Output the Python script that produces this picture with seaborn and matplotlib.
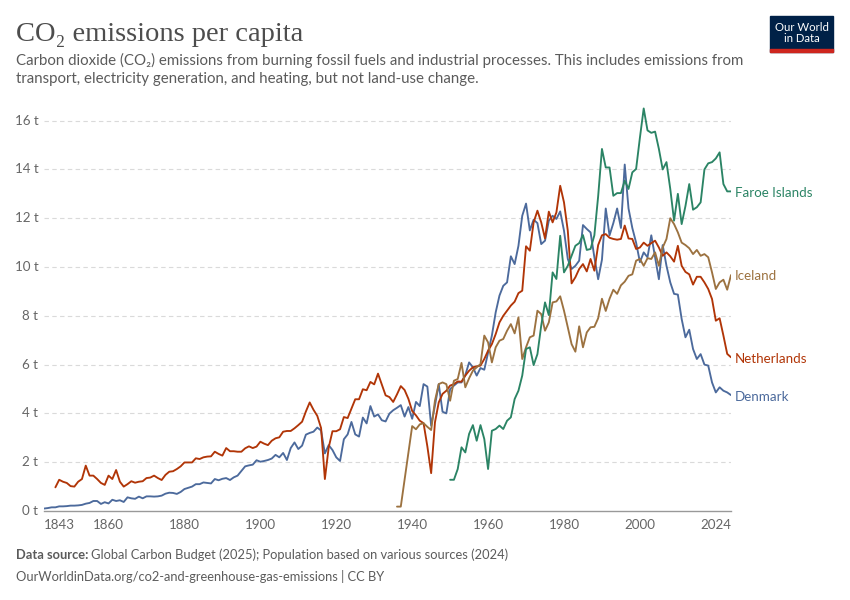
import matplotlib
matplotlib.use("Agg")
import matplotlib.pyplot as plt
import pandas as pd
import seaborn as sns
from matplotlib.patches import Rectangle

# CO2 emissions per capita (t)
years_dk = list(range(1843, 2025))
denmark = [
    0.10, 0.12, 0.15, 0.15, 0.19, 0.19, 0.20,
    0.22, 0.22, 0.23, 0.25, 0.30, 0.33, 0.41, 0.41, 0.29, 0.36,
    0.31, 0.46, 0.41, 0.44, 0.37, 0.56, 0.52, 0.50, 0.59, 0.52,
    0.60, 0.60, 0.59, 0.60, 0.63, 0.71, 0.75, 0.74, 0.70, 0.78,
    0.90, 0.95, 1.00, 1.10, 1.10, 1.17, 1.15, 1.13, 1.31, 1.26,
    1.32, 1.35, 1.27, 1.38, 1.45, 1.64, 1.83, 1.87, 1.90, 2.08,
    2.02, 2.05, 2.09, 2.15, 2.30, 2.20, 2.38, 2.09, 2.58, 2.81,
    2.54, 2.68, 3.13, 3.20, 3.25, 3.42, 3.30, 2.36, 2.70, 2.50,
    2.20, 2.05, 2.94, 3.14, 3.65, 3.14, 3.05, 3.83, 3.59, 4.30,
    3.87, 3.96, 3.72, 3.67, 3.99, 4.13, 4.23, 4.34, 3.87, 4.26,
    3.78, 4.47, 4.30, 5.20, 5.10, 3.50, 4.32, 5.20, 4.07, 4.00,
    5.00, 5.14, 5.27, 5.27, 5.57, 6.09, 5.89, 5.55, 5.86, 5.79,
    6.50, 7.19, 8.14, 8.83, 9.23, 9.37, 10.44, 10.12, 10.87, 12.10,
    12.60, 11.50, 11.94, 11.80, 10.94, 11.08, 11.90, 12.10, 11.97, 12.28,
    11.49, 10.33, 9.92, 10.05, 10.26, 11.72, 11.56, 11.42, 10.40, 9.50,
    10.30, 12.40, 11.30, 11.80, 12.40, 11.60, 14.20, 12.40, 11.60, 11.00,
    10.20, 10.60, 10.40, 11.30, 10.40, 9.50, 10.90, 10.05, 9.37, 8.90,
    8.87, 7.87, 7.12, 7.43, 6.64, 6.23, 6.43, 6.00, 5.96, 5.27,
    4.86, 5.07, 4.93, 4.86, 4.75,
]

years_nl = list(range(1846, 2025))
netherlands = [
    0.97, 1.28, 1.20, 1.15,
    1.02, 1.00, 1.20, 1.31, 1.86, 1.45, 1.45, 1.31, 1.15, 1.07,
    1.45, 1.31, 1.68, 1.20, 1.00, 1.10, 1.22, 1.16, 1.20, 1.22,
    1.35, 1.37, 1.45, 1.35, 1.27, 1.48, 1.61, 1.63, 1.72, 1.83,
    1.99, 1.99, 1.99, 2.16, 2.13, 2.20, 2.23, 2.24, 2.43, 2.34,
    2.27, 2.58, 2.45, 2.45, 2.43, 2.43, 2.57, 2.65, 2.58, 2.64,
    2.84, 2.76, 2.70, 2.88, 2.98, 3.02, 3.25, 3.28, 3.28, 3.39,
    3.52, 3.66, 4.08, 4.45, 4.15, 3.90, 3.40, 1.31, 2.60, 3.27,
    3.27, 3.35, 3.85, 3.81, 4.19, 4.58, 4.58, 4.99, 4.95, 5.29,
    5.19, 5.63, 5.19, 4.74, 4.67, 4.47, 4.78, 5.12, 4.96, 4.60,
    4.10, 3.92, 3.70, 3.60, 2.65, 1.55, 3.63, 4.45, 4.80, 4.93,
    5.14, 5.20, 5.31, 5.30, 5.55, 5.75, 5.89, 5.93, 5.96, 6.23,
    6.57, 6.84, 7.25, 7.73, 8.00, 8.21, 8.42, 8.58, 8.93, 9.03,
    10.85, 10.67, 11.83, 12.31, 11.83, 11.17, 12.27, 11.83, 12.24, 13.33,
    12.65, 11.49, 9.33, 9.58, 9.92, 10.12, 9.82, 10.33, 9.85, 10.90,
    11.30, 11.35, 11.20, 11.15, 11.12, 11.15, 11.70, 11.17, 11.15, 10.74,
    10.80, 11.00, 10.87, 10.98, 11.08, 10.80, 10.46, 10.60, 10.44, 10.22,
    10.87, 10.05, 9.80, 9.70, 9.28, 9.60, 9.60, 9.37, 9.10, 8.69,
    7.80, 7.90, 7.19, 6.44, 6.30,
]

years_is = [1936, 1937] + list(range(1940, 2025))
iceland = [
    0.18, 0.18,
    3.48, 3.35, 3.55, 3.60, 3.45, 3.32, 4.52, 5.20, 5.27, 5.20,
    4.52, 5.34, 5.41, 6.07, 5.07, 5.44, 5.75, 5.89, 6.02, 7.19,
    6.91, 6.09, 6.71, 6.98, 7.05, 7.39, 7.66, 7.28, 7.94, 6.23,
    6.71, 7.12, 7.19, 8.21, 8.07, 7.39, 7.73, 8.55, 8.59, 8.80,
    8.21, 7.53, 6.84, 6.53, 7.57, 6.71, 7.32, 7.53, 7.55, 7.90,
    8.70, 8.20, 8.70, 9.07, 8.90, 9.25, 9.40, 9.64, 9.70, 10.26,
    10.33, 10.05, 10.36, 10.33, 10.60, 10.05, 10.80, 11.15, 12.00, 11.76,
    11.42, 11.00, 10.90, 10.77, 10.53, 10.70, 10.46, 10.53, 10.40, 9.78,
    9.10, 9.37, 9.48, 9.07, 9.67,
]

years_fo = list(range(1950, 2025))
faroe = [
    1.28, 1.28, 1.72, 2.61, 2.40, 3.16, 3.52, 2.88, 3.52, 2.95,
    1.72, 3.29, 3.36, 3.50, 3.36, 3.70, 3.84, 4.59, 4.93, 5.55,
    6.64, 6.71, 5.98, 6.43, 7.60, 8.55, 8.03, 9.78, 9.51, 11.28,
    9.78, 10.05, 10.46, 10.87, 10.98, 11.31, 10.70, 10.74, 11.30, 12.90,
    14.84, 14.08, 14.08, 12.92, 13.03, 13.03, 13.54, 13.20, 13.88, 14.02,
    15.30, 16.50, 15.60, 15.50, 15.55, 14.84, 14.00, 14.30, 13.20, 11.90,
    13.00, 11.76, 12.50, 13.40, 12.35, 12.45, 12.65, 14.00, 14.25, 14.30,
    14.45, 14.70, 13.40, 13.10, 13.10,
]

colors = {
    "Faroe Islands": "#2b8465",
    "Iceland": "#9c7240",
    "Netherlands": "#b13507",
    "Denmark": "#4c6a9c",
}
y_ticks = [0, 2, 4, 6, 8, 10, 12, 14, 16]
x_ticks = [1843, 1860, 1880, 1900, 1920, 1940, 1960, 1980, 2000, 2024]

frames = []
for name, yrs, vals in [("Denmark", years_dk, denmark),
                        ("Netherlands", years_nl, netherlands),
                        ("Iceland", years_is, iceland),
                        ("Faroe Islands", years_fo, faroe)]:
    frames.append(pd.DataFrame({"year": yrs, "value": vals, "country": name}))
df = pd.concat(frames, ignore_index=True)

sns.set_theme(style="white")
plt.rcParams["font.family"] = ["Lato", "DejaVu Sans"]

fig = plt.figure(figsize=(8.5, 6), dpi=100)
W, H = 850, 600
ax = fig.add_axes([44 / W, 1 - 511 / H, (731 - 44) / W, (511 - 106) / H])

sns.lineplot(data=df, x="year", y="value", hue="country", palette=colors,
             linewidth=1.35, legend=False, ax=ax, estimator=None)

ax.set_xlim(1843, 2024)
ax.set_ylim(0, 16.6)
ax.set_xlabel("")
ax.set_ylabel("")

# grid
for t in y_ticks[1:]:
    ax.axhline(t, color="#dadada", lw=0.8, ls=(0, (4, 3)), zorder=0)

for s in ["top", "right", "left"]:
    ax.spines[s].set_visible(False)
ax.spines["bottom"].set_color("#999999")
ax.spines["bottom"].set_linewidth(1)

ax.set_yticks(y_ticks)
ax.set_yticklabels([f"{t} t" for t in y_ticks])
ax.tick_params(axis="y", length=0, pad=4, labelsize=9.6, labelcolor="#666666")
ax.set_xticks(x_ticks)
ax.set_xticklabels([str(t) for t in x_ticks])
ax.tick_params(axis="x", length=4, width=1, color="#999999", pad=2,
               labelsize=9.6, labelcolor="#666666")
xl = ax.get_xticklabels()
xl[0].set_horizontalalignment("left")
xl[-1].set_horizontalalignment("right")
for lab in ax.get_yticklabels():
    lab.set_verticalalignment("center")

# end labels
last = {"Faroe Islands": faroe[-1], "Iceland": iceland[-1],
        "Netherlands": netherlands[-1], "Denmark": denmark[-1]}
for name, v in last.items():
    ax.annotate(name, xy=(2024, v), xytext=(3, -1), textcoords="offset points",
                va="center", ha="left", fontsize=9.6, color=colors[name],
                annotation_clip=False)

# titles
fig.text(16 / W, 1 - 41 / H, "CO₂ emissions per capita",
         family=["Liberation Serif", "DejaVu Serif"], fontsize=20.5,
         color="#4d4d4d", va="baseline")
sub = ("Carbon dioxide (CO₂) emissions from burning fossil fuels and industrial processes. This includes emissions from\n"
       "transport, electricity generation, and heating, but not land-use change.")
fig.text(16 / W, 1 - 53 / H, sub, fontsize=10.8, color="#5b5b5b", va="top",
         linespacing=1.4)

# logo
fig.patches.append(Rectangle((770 / W, 1 - 52 / H), 63 / W, 36 / H,
                             transform=fig.transFigure, color="#002147"))
fig.patches.append(Rectangle((770 / W, 1 - 52 / H), 63 / W, 3 / H,
                             transform=fig.transFigure, color="#ce261e"))
fig.text(801.5 / W, 1 - 33 / H, "Our World\nin Data", color="white",
         fontsize=8.2, ha="center", va="center", linespacing=1.0)

# footer
fig.canvas.draw()
r = fig.canvas.get_renderer()
t1 = fig.text(16 / W, 1 - 559 / H, "Data source:", fontsize=9.3, color="#5b5b5b",
              weight="bold", va="baseline")
bb = t1.get_window_extent(renderer=r)
fig.text(bb.x1 / W + 3 / W, 1 - 559 / H,
         "Global Carbon Budget (2025); Population based on various sources (2024)",
         fontsize=9.3, color="#5b5b5b", va="baseline")
fig.text(16 / W, 1 - 581 / H,
         "OurWorldinData.org/co2-and-greenhouse-gas-emissions | CC BY",
         fontsize=9.3, color="#5b5b5b", va="baseline")

fig.savefig("out.png", dpi=100)
